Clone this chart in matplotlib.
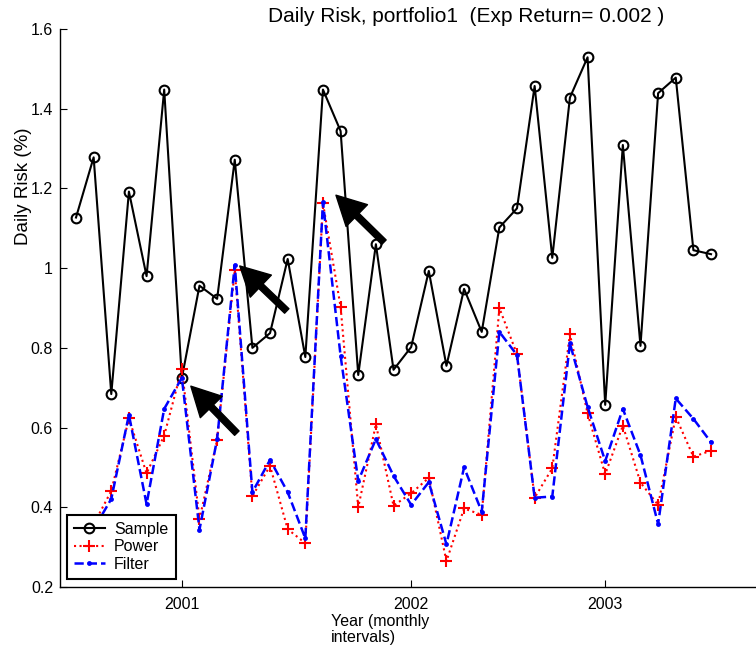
import matplotlib
matplotlib.use('Agg')

import matplotlib.pyplot as plt
import matplotlib.transforms as mtransforms
import numpy as np

plt.rcParams['font.family'] = ['Liberation Sans', 'DejaVu Sans']

# monthly daily-risk estimates (%)
sample = [1.127, 1.278, 0.684, 1.192, 0.980, 1.448, 0.724, 0.956, 0.923, 1.272,
          0.800, 0.837, 1.023, 0.777, 1.448, 1.344, 0.732, 1.060, 0.745, 0.802,
          0.993, 0.755, 0.948, 0.840, 1.102, 1.150, 1.457, 1.026, 1.428, 1.529,
          0.657, 1.309, 0.805, 1.439, 1.478, 1.045, 1.035]
power = [0.33, 0.357, 0.441, 0.623, 0.485, 0.580, 0.748, 0.370, 0.569, 0.995,
         0.428, 0.504, 0.345, 0.310, 1.163, 0.903, 0.400, 0.608, 0.404, 0.435,
         0.474, 0.265, 0.397, 0.381, 0.900, 0.784, 0.424, 0.498, 0.834, 0.636,
         0.483, 0.605, 0.462, 0.406, 0.627, 0.527, 0.542]
filt = [0.31, 0.345, 0.421, 0.632, 0.408, 0.647, 0.725, 0.344, 0.571, 1.008,
        0.438, 0.519, 0.438, 0.322, 1.165, 0.780, 0.466, 0.571, 0.479, 0.406,
        0.463, 0.307, 0.500, 0.389, 0.840, 0.782, 0.424, 0.427, 0.811, 0.652,
        0.516, 0.647, 0.531, 0.358, 0.673, 0.622, 0.563]

year_ticks = [6, 19, 30]
year_labels = ['2001', '2002', '2003']
y_ticks = [0.2, 0.4, 0.6, 0.8, 1.0, 1.2, 1.4, 1.6]
y_labels = ['0.2', '0.4', '0.6', '0.8', '1', '1.2', '1.4', '1.6']

# arrows: (series, month index, tip offset px, tail offset px)
arrows = [
    ('sample', 6, (9, -8), (46, -47)),
    ('filt', 9, (5, -1), (47, -45)),
    ('power', 14, (13, 8), (48, -47)),
]

W, H = 756, 649
fig = plt.figure(figsize=(W / 100, H / 100), dpi=100)
ax = fig.add_axes([60 / W, 62 / H, 812 / W, 558 / H])

x = np.arange(len(sample))
ax.plot(x, sample, color='k', lw=1.5, marker='o', ms=7, mfc='none',
        mec='k', mew=1.5, label='Sample')
ax.plot(x, power, color='red', lw=1.5, ls=':', marker='+', ms=9,
        mew=1.5, label='Power')
ax.plot(x, filt, color='blue', lw=1.8, ls='--', marker='o', ms=3.5,
        mew=0, label='Filter')

series = {'sample': sample, 'power': power, 'filt': filt}
for name, i, tip, tail in arrows:
    tip_trans = ax.transData + mtransforms.ScaledTranslation(
        tip[0] / 100, tip[1] / 100, fig.dpi_scale_trans)
    ax.annotate('', xy=(i, series[name][i]), xycoords=tip_trans,
                xytext=tail, textcoords='offset pixels',
                arrowprops=dict(width=4.5, headwidth=22, headlength=21,
                                facecolor='k', edgecolor='k', shrink=0))

ax.set_xlim(-16 / 17.64, 796 / 17.64)
ax.set_ylim(0.2, 1.6)
ax.set_xticks(year_ticks)
ax.set_xticklabels(year_labels)
ax.set_yticks(y_ticks)
ax.set_yticklabels(y_labels)
ax.tick_params(direction='in', length=5, width=0.8, labelsize=11.5)
ax.tick_params(axis='x', pad=7)
ax.tick_params(axis='y', pad=5)

for side in ['top', 'right']:
    ax.spines[side].set_visible(False)
for side in ['left', 'bottom']:
    ax.spines[side].set_linewidth(1.0)

leg = ax.legend(loc='lower left', bbox_to_anchor=(7 / 812, 8 / 558),
                borderaxespad=0, fontsize=11.5, handlelength=1.9,
                handletextpad=0.6, borderpad=0.45, labelspacing=0.15,
                fancybox=False, framealpha=1, edgecolor='k')
leg.get_frame().set_linewidth(1.5)
leg.set_zorder(10)

fig.text(466 / W, 1 - 22 / H, 'Daily Risk, portfolio1  (Exp Return= 0.002 )',
         ha='center', va='baseline', fontsize=15)
fig.text(24 / W, 1 - 186.5 / H, 'Daily Risk (%)', rotation=90,
         ha='center', va='center', fontsize=13.5)
fig.text(331 / W, 1 - 614 / H, 'Year (monthly\nintervals)',
         ha='left', va='top', fontsize=11.5, linespacing=1.1)

fig.savefig('out.png', dpi=100)
